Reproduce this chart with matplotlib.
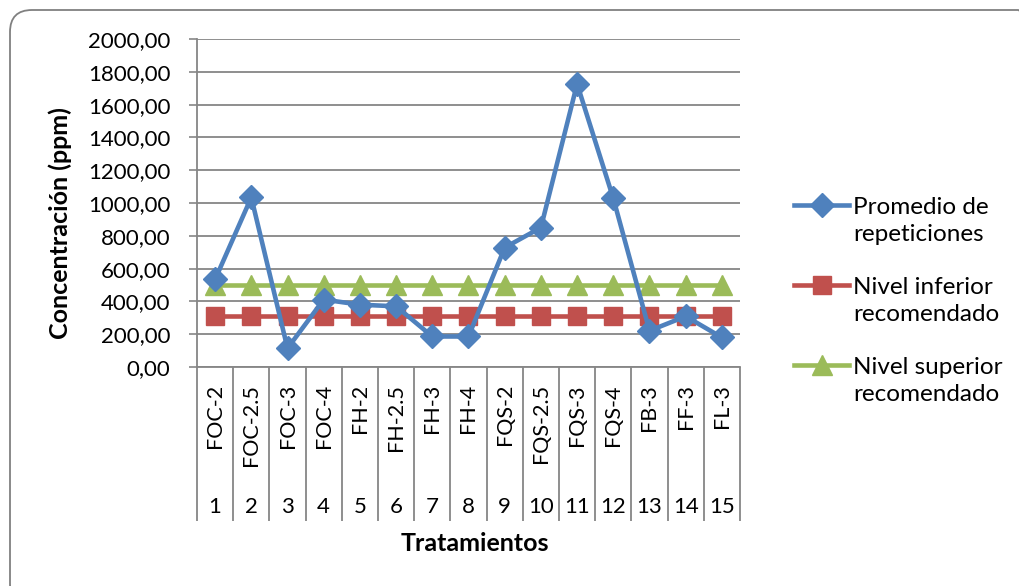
import matplotlib
matplotlib.use("Agg")
import matplotlib.pyplot as plt
from matplotlib.lines import Line2D
from matplotlib.patches import FancyBboxPatch
from matplotlib.ticker import FuncFormatter, FixedLocator

plt.rcParams['font.family'] = ['Lato', 'DejaVu Sans']

# data
tratamientos = ["FOC-2", "FOC-2.5", "FOC-3", "FOC-4", "FH-2", "FH-2.5", "FH-3", "FH-4",
                "FQS-2", "FQS-2.5", "FQS-3", "FQS-4", "FB-3", "FF-3", "FL-3"]
numeros = list(range(1, 16))
promedio = [534, 1034, 114, 411, 380, 370, 186, 186, 728, 850, 1726, 1028, 221, 309, 180]
nivel_inferior = [310] * 15
nivel_superior = [500] * 15

BLUE = "#4F81BD"
RED = "#C0504D"
GREEN = "#9BBB59"
GRID = "#868686"
FS = 15.5

W, H = 1020, 586
fig = plt.figure(figsize=(W / 100, H / 100), dpi=100)
ax = fig.add_axes([197 / W, 1 - 367 / H, 543 / W, 328 / H])

l1, = ax.plot(numeros, promedio, color=BLUE, lw=3.3, marker="D", ms=12,
              label="Promedio de\nrepeticiones", zorder=5)
l2, = ax.plot(numeros, nivel_inferior, color=RED, lw=3.3, marker="s", ms=13,
              label="Nivel inferior\nrecomendado", zorder=4)
l3, = ax.plot(numeros, nivel_superior, color=GREEN, lw=3.3, marker="^", ms=15,
              label="Nivel superior\nrecomendado", zorder=3)

ax.set_xlim(0.5, 15.5)
ax.set_ylim(0, 2000)
ax.set_yticks(range(0, 2001, 200))
ax.yaxis.set_major_formatter(FuncFormatter(lambda v, p: f"{v:.2f}".replace(".", ",")))
ax.tick_params(axis="y", labelsize=16, length=6, width=1.2, color=GRID,
               direction="out", pad=13)
ax.grid(axis="y", color=GRID, lw=1.3)
ax.set_axisbelow(True)

# category table below the axis
ax.set_xticks([])
ax.xaxis.set_minor_locator(FixedLocator([i + 0.5 for i in range(0, 16)]))
ax.tick_params(axis="x", which="minor", length=111, width=1.3, color=GRID, direction="out")
trans = ax.get_xaxis_transform()
for x, name, n in zip(numeros, tratamientos, numeros):
    ax.text(x, -0.052, name, transform=trans, rotation=90, ha="center", va="top",
            fontsize=FS)
    ax.text(x, -0.427, str(n), transform=trans, ha="center", va="center", fontsize=16)

for side in ["top", "right"]:
    ax.spines[side].set_visible(False)
for side in ["left", "bottom"]:
    ax.spines[side].set_color(GRID)
    ax.spines[side].set_linewidth(1.3)

ax.set_xlabel("Tratamientos", fontsize=18, fontweight="bold", va="center")
ax.xaxis.set_label_coords(0.512, -0.537)
ax.set_ylabel("Concentración (ppm)", fontsize=18, fontweight="bold", va="center")
ax.yaxis.set_label_coords(-0.252, 0.439)

# legend, handle on the first line of each label like Excel does
for i, ln in enumerate([l1, l2, l3]):
    yc = 205 + 80 * i
    fig.add_artist(Line2D([794 / W, 849 / W], [1 - yc / H] * 2, transform=fig.transFigure,
                          color=ln.get_color(), lw=ln.get_linewidth()))
    fig.add_artist(Line2D([822 / W], [1 - yc / H], transform=fig.transFigure,
                          color=ln.get_color(), marker=ln.get_marker(),
                          ms=ln.get_markersize(), lw=0))
    fig.text(853 / W, 1 - (yc + 16) / H, ln.get_label(), fontsize=17.5, va="center",
             ha="left", linespacing=1.3)

border = FancyBboxPatch((0.1, -0.2), 10.3, 5.96, boxstyle="round,pad=0,rounding_size=0.22",
                        transform=fig.dpi_scale_trans, fill=False, ec="#808080", lw=1.3)
fig.patches.append(border)

fig.savefig("out.png", dpi=100)
